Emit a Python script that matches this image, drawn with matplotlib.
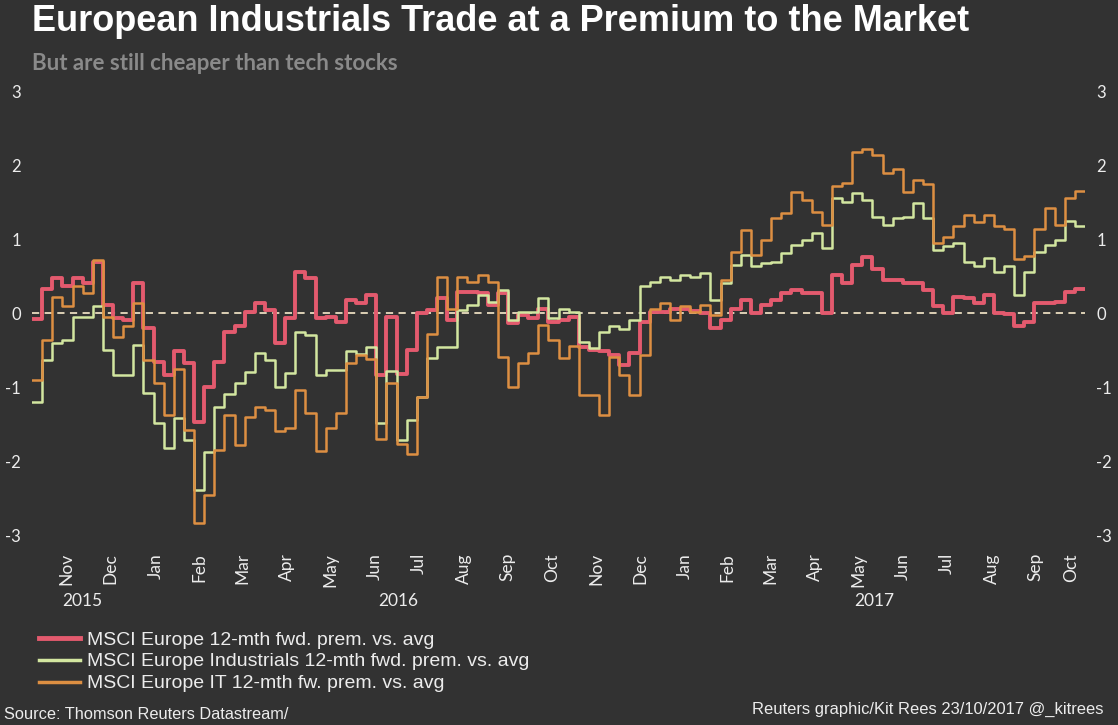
import matplotlib.pyplot as plt
import matplotlib.dates as mdates
import matplotlib.transforms as mtransforms
from matplotlib.lines import Line2D
import pandas as pd

# weekly readings, 12-mth forward P/E premium vs average (std. devs)
dates = pd.date_range('2015-10-23', periods=105, freq='7D')

europe = [-0.08, 0.32, 0.47, 0.36, 0.47, 0.40, 0.69, 0.11, -0.07, -0.09,
          0.40, -0.20, -0.66, -0.84, -0.52, -0.68, -1.47, -1.00, -0.66, -0.25,
          -0.18, 0.02, 0.13, 0.04, -0.41, -0.07, 0.56, 0.47, -0.07, -0.05,
          -0.12, 0.18, 0.13, 0.24, -0.84, -0.05, -0.82, -0.50, 0.00, 0.04,
          0.20, -0.09, 0.29, 0.29, 0.27, 0.11, 0.27, -0.14, -0.03, -0.07,
          0.06, -0.12, -0.10, -0.05, -0.46, -0.50, -0.52, -0.57, -0.70, -0.54,
          -0.12, 0.02, 0.02, 0.05, 0.05, 0.03, 0.00, -0.20, -0.10, 0.05,
          0.18, 0.00, 0.11, 0.18, 0.27, 0.31, 0.27, 0.27, 0.00, 0.51,
          0.40, 0.65, 0.76, 0.60, 0.45, 0.45, 0.40, 0.40, 0.31, 0.09,
          0.00, 0.22, 0.20, 0.13, 0.24, 0.00, -0.02, -0.18, -0.12, 0.13,
          0.13, 0.15, 0.29, 0.32, 0.32]

industrials = [-1.20, -0.64, -0.41, -0.36, -0.05, -0.05, 0.09, -0.50, -0.84, -0.84,
               -0.43, -1.08, -1.49, -1.82, -1.42, -1.72, -2.39, -1.88, -1.27, -1.10,
               -0.95, -0.80, -0.54, -0.64, -1.00, -0.81, -0.25, -0.30, -0.84, -0.77,
               -0.77, -0.52, -0.56, -0.46, -1.49, -0.79, -1.72, -1.45, -1.13, -0.61,
               -0.46, -0.46, 0.04, 0.11, 0.24, 0.15, 0.31, -0.09, 0.02, 0.02,
               0.20, -0.07, 0.06, 0.02, -0.39, -0.47, -0.25, -0.18, -0.22, -0.09,
               0.36, 0.42, 0.49, 0.45, 0.51, 0.48, 0.54, 0.18, 0.40, 0.65,
               0.78, 0.63, 0.67, 0.69, 0.81, 0.92, 0.99, 1.08, 0.88, 1.55,
               1.50, 1.62, 1.53, 1.30, 1.19, 1.28, 1.30, 1.48, 1.28, 0.85,
               0.90, 0.95, 0.69, 0.63, 0.74, 0.56, 0.63, 0.24, 0.56, 0.83,
               0.92, 0.99, 1.25, 1.18, 1.18]

tech = [-0.90, -0.36, 0.22, 0.09, 0.36, 0.27, 0.72, -0.05, -0.32, -0.18,
        0.13, -0.64, -0.95, -1.38, -0.75, -1.58, -2.84, -2.46, -1.85, -1.38,
        -1.78, -1.40, -1.27, -1.31, -1.60, -1.56, -1.04, -1.35, -1.87, -1.56,
        -1.35, -0.68, -0.57, -0.62, -1.70, -0.95, -1.77, -1.90, -1.14, -0.28,
        0.48, 0.06, 0.49, 0.42, 0.51, 0.42, -0.59, -1.00, -0.68, -0.54,
        -0.16, -0.36, -0.61, -0.45, -1.11, -1.11, -1.38, -0.60, -0.84, -1.11,
        -0.57, 0.06, 0.13, -0.09, 0.09, 0.02, 0.11, -0.03, 0.45, 0.82,
        1.12, 0.78, 0.99, 1.28, 1.35, 1.64, 1.53, 1.37, 1.19, 1.71,
        1.76, 2.18, 2.22, 2.13, 1.89, 1.94, 1.64, 1.80, 1.74, 0.94,
        1.03, 1.17, 1.32, 1.23, 1.32, 1.18, 1.13, 0.73, 0.77, 1.13,
        1.42, 1.19, 1.55, 1.65, 1.65]

labels = ['MSCI Europe 12-mth fwd. prem. vs. avg',
          'MSCI Europe Industrials 12-mth fwd. prem. vs. avg',
          'MSCI Europe IT 12-mth fw. prem. vs. avg']
years = [2015, 2016, 2017]

BG = '#323232'
RED = '#e35a6e'
GREEN = '#d3e6a0'
ORANGE = '#dd8f42'
ZERO = '#e9dcbf'
TXT = '#ececec'
SANS = ['Liberation Sans', 'DejaVu Sans']

plt.rcParams['font.family'] = ['Lato', 'DejaVu Sans']
plt.rcParams['axes.unicode_minus'] = False

fig = plt.figure(figsize=(11.18, 7.25), dpi=100, facecolor=BG)
ax = fig.add_axes([32 / 1118, 1 - 535 / 725, 1053 / 1118, 444 / 725])
ax.set_facecolor(BG)

ax.axhline(0, color=ZERO, lw=1.3, ls=(0, (4, 3)), zorder=1)
ax.step(dates, europe, where='post', color=RED, lw=2.8, zorder=3)
ax.step(dates, industrials, where='post', color=GREEN, lw=1.8, zorder=4)
ax.step(dates, tech, where='post', color=ORANGE, lw=1.8, zorder=5)

ax.set_xlim(dates[0], dates[-1])
ax.set_ylim(-3, 3)
ax.set_yticks(range(-3, 4))
ax.tick_params(axis='y', length=0, labelleft=True, labelright=True,
               labelsize=12, labelcolor=TXT, pad=8)
for s in ax.spines.values():
    s.set_visible(False)

# month labels centred on the visible part of each month
months = pd.date_range('2015-11-01', '2017-10-01', freq='MS')
centers = []
for m in months:
    end = min(m + pd.offsets.MonthBegin(1), dates[-1])
    centers.append(m + (end - m) / 2)
ax.set_xticks(centers)
ax.set_xticklabels([m.strftime('%b') for m in months], rotation=90)
ax.tick_params(axis='x', length=0, pad=13, labelsize=12.5, labelcolor=TXT)

trans = mtransforms.blended_transform_factory(ax.transData, fig.transFigure)
for yr in years:
    start = max(pd.Timestamp(yr, 1, 1), dates[0])
    end = min(pd.Timestamp(yr + 1, 1, 1), dates[-1])
    mid = start + (end - start) / 2
    ax.text(mdates.date2num(mid), 1 - 601 / 725, str(yr), transform=trans,
            ha='center', va='center', fontsize=12.5, color=TXT)

fig.text(32 / 1118, 1 - 31 / 725, 'European Industrials Trade at a Premium to the Market',
         family=SANS, fontsize=26, fontweight='bold', color='white', va='baseline')
fig.text(32 / 1118, 1 - 70 / 725, 'But are still cheaper than tech stocks',
         fontsize=16, fontweight='bold', color='#8a8a8a', va='baseline')

handles = [Line2D([], [], color=RED, lw=3.5),
           Line2D([], [], color=GREEN, lw=2.5),
           Line2D([], [], color=ORANGE, lw=2.5)]
fig.legend(handles, labels, loc='upper left', bbox_to_anchor=(39 / 1118, 1 - 631 / 725),
           frameon=False, borderpad=0, borderaxespad=0, handlelength=2.1,
           handletextpad=0.35, labelspacing=0.22, labelcolor=TXT,
           prop={'family': SANS, 'size': 14})

fig.text(4 / 1118, 1 - 719 / 725, 'Source: Thomson Reuters Datastream/',
         family=SANS, fontsize=11.8, color=TXT, va='baseline')
fig.text(1103 / 1118, 1 - 714 / 725, 'Reuters graphic/Kit Rees 23/10/2017 @_kitrees',
         family=SANS, fontsize=11.9, color=TXT, va='baseline', ha='right')

fig.savefig('out.png', dpi=100, facecolor=BG)
